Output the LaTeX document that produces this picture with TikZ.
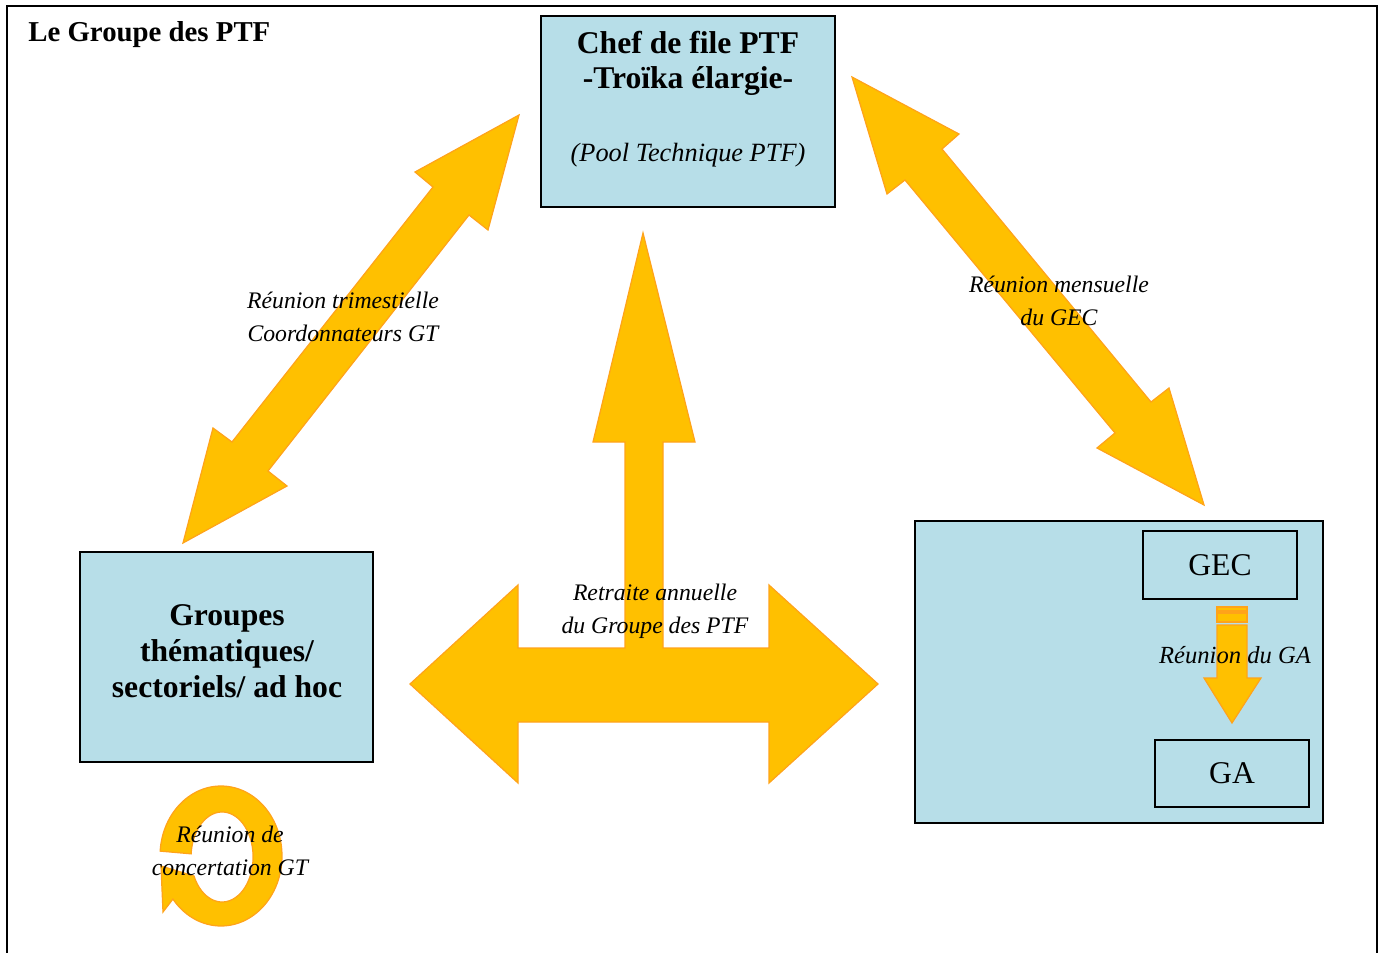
\documentclass[tikz,border=0pt]{standalone}
\usepackage{fontspec}
\setmainfont{Liberation Serif}
\usetikzlibrary{positioning}

\definecolor{boxblue}{HTML}{B7DEE8}
\definecolor{arrowgold}{HTML}{FFC000}
\definecolor{arrowedge}{HTML}{FFA31A}

\begin{document}
\begin{tikzpicture}[x=0.02cm, y=-0.02cm,
  box/.style={draw=black, line width=1.1pt, fill=boxblue, inner sep=0pt},
  fatarrow/.style={fill=arrowgold, draw=arrowedge, line width=0.7pt, line join=miter},
  boldtext/.style={font=\fontsize{18pt}{20.4pt}\selectfont\bfseries, align=center, anchor=base},
  meetlabel/.style={font=\fontsize{13.5pt}{18.7pt}\selectfont\itshape, align=center, anchor=base}]
\useasboundingbox (0,0) rectangle (1384,953);
\draw[line width=1.2pt] (7,953) -- (7,6) -- (1377,6) -- (1377,953);
\node[font=\fontsize{16.4pt}{19pt}\selectfont\bfseries, anchor=base west, inner sep=0pt] (title) at (28,42) {Le Groupe des PTF};

% boxes
\node[box, minimum width=5.88cm, minimum height=3.82cm] (chef) at (688,111.5) {};
\node[box, minimum width=5.86cm, minimum height=4.2cm] (groupes) at (226.5,657) {};
\node[box, minimum width=8.16cm, minimum height=6.04cm] (gecga) at (1119,672) {};
\node[box, font=\fontsize{18pt}{20pt}\selectfont, minimum width=3.08cm, minimum height=1.36cm] (gec) at (1220,565) {GEC};
\node[box, font=\fontsize{18pt}{20pt}\selectfont, minimum width=3.08cm, minimum height=1.34cm] (ga) at (1232,773.5) {GA};

% last line sits on the given point
\node[boldtext] (cheftext) at (688,89) {Chef de file PTF\\-Troïka élargie-};
\node[meetlabel, font=\fontsize{15pt}{18pt}\selectfont\itshape] (pool) at (688,162) {(Pool Technique PTF)};
\node[boldtext] (groupestext) at (227,697) {Groupes\\thématiques/\\sectoriels/ ad hoc};

% big arrows
\draw[fatarrow] (519,115) -- (488,230) -- (469,215) -- (268,471) -- (287,486) -- (183,543)
  -- (213,428) -- (232,442) -- (433,187) -- (415,172) -- cycle;
\draw[fatarrow] (852,77) -- (959,134) -- (942,149) -- (1151,402) -- (1169,388) -- (1204,505)
  -- (1097,448) -- (1115,433) -- (905,180) -- (887,194) -- cycle;
\draw[fatarrow] (410,684) -- (518,585) -- (518,648) -- (625,648) -- (625,442) -- (593,442)
  -- (643,233) -- (695,442) -- (663,442) -- (663,648) -- (769,648) -- (769,585) -- (878,684)
  -- (769,783) -- (769,722) -- (518,722) -- (518,783) -- cycle;

% GEC -> GA
\foreach \ya/\yb in {607/611, 613/622}
  \draw[fatarrow] (1217,\ya) rectangle (1247,\yb);
\draw[fatarrow] (1217,625) -- (1247,625) -- (1247,678) -- (1261,678) -- (1232,723)
  -- (1204,678) -- (1217,678) -- cycle;

% loop
\draw[fatarrow] (221,856) ++(184:61 and 70) arc[start angle=184, end angle=502, x radius=61, y radius=70]
  -- (163,912) -- (161,866) -- (194,876) arc[start angle=515, end angle=184, x radius=31, y radius=45] -- cycle;

\node[meetlabel] (trim) at (343,341) {Réunion trimestielle\\Coordonnateurs GT};
\node[meetlabel] (mens) at (1059,325) {Réunion mensuelle\\du GEC};
\node[meetlabel] (retraite) at (655,633) {Retraite annuelle\\du Groupe des PTF};
\node[meetlabel, font=\fontsize{14pt}{18pt}\selectfont\itshape] (reunga) at (1235,663) {Réunion du GA};
\node[meetlabel] (concert) at (230,875) {Réunion de\\concertation GT};
\end{tikzpicture}
\end{document}
